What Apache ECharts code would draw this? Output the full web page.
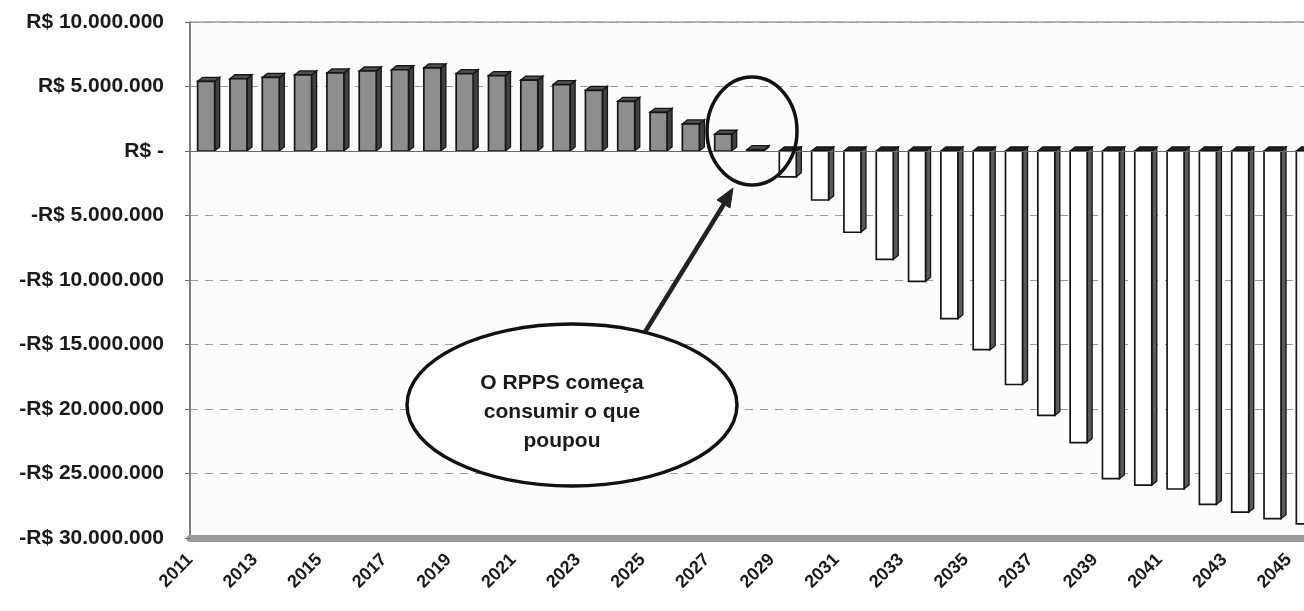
<!DOCTYPE html>
<html>
<head>
<meta charset="utf-8">
<script src="https://cdn.jsdelivr.net/npm/echarts@6/dist/echarts.min.js"></script>
<style>
  html, body { margin: 0; padding: 0; background: #ffffff; overflow: hidden; width: 1304px; height: 611px; }
  #chart { width: 1321px; height: 611px; }
</style>
</head>
<body>
<div id="chart"></div>
<script>
// ---- data ----
const years = ['2011','2012','2013','2014','2015','2016','2017','2018','2019','2020',
               '2021','2022','2023','2024','2025','2026','2027','2028','2029','2030',
               '2031','2032','2033','2034','2035','2036','2037','2038','2039','2040',
               '2041','2042','2043','2044','2045'];
const saldo = [5400000, 5600000, 5700000, 5900000, 6050000, 6200000, 6300000, 6450000, 6000000, 5850000,
               5500000, 5150000, 4700000, 3850000, 3000000, 2100000, 1300000, 100000, -2000000, -3800000,
               -6300000, -8400000, -10100000, -13000000, -15400000, -18100000, -20500000, -22600000, -25400000, -25900000,
               -26200000, -27400000, -28000000, -28500000, -28900000];
const yTickLabels = ['-R$ 30.000.000','-R$ 25.000.000','-R$ 20.000.000','-R$ 15.000.000','-R$ 10.000.000',
                     '-R$ 5.000.000','R$ -','R$ 5.000.000','R$ 10.000.000'];
const yMin = -30000000, yMax = 10000000, yStep = 5000000;
const noteText = 'O RPPS começa\nconsumir o que\npoupou';

const chart = echarts.init(document.getElementById('chart'), null, { renderer: 'canvas' });
const FONT = '"Liberation Sans", Arial, sans-serif';

function renderBar(params, api) {
  const idx = api.value(0);
  const v = api.value(1);
  const base = api.coord([idx, 0]);
  const top = api.coord([idx, v]);
  const bw = 17, dx = 5, dy = -4;
  const xL = base[0] - bw / 2, xR = xL + bw;
  const yTop = Math.min(base[1], top[1]);
  const yBot = Math.max(base[1], top[1]);
  const pos = v >= 0;
  const outline = '#151515';
  return {
    type: 'group',
    children: [
      { type: 'polygon', shape: { points: [[xR, yTop], [xR + dx, yTop + dy], [xR + dx, yBot + dy], [xR, yBot]] },
        style: { fill: pos ? '#404040' : '#5a5a5a', stroke: outline, lineWidth: 1.3 } },
      { type: 'polygon', shape: { points: [[xL, yTop], [xL + dx, yTop + dy], [xR + dx, yTop + dy], [xR, yTop]] },
        style: { fill: pos ? '#505050' : '#202020', stroke: outline, lineWidth: 1.3 } },
      { type: 'rect', shape: { x: xL, y: yTop, width: bw, height: Math.max(yBot - yTop, 0.5) },
        style: { fill: pos ? '#8e8e8e' : '#ffffff', stroke: outline, lineWidth: 1.7 } }
    ]
  };
}

const option = {
  backgroundColor: '#ffffff',
  animation: false,
  grid: [
    { left: 190, top: 22, right: 0, bottom: 73, show: true, backgroundColor: '#fcfcfc', borderColor: '#707070', borderWidth: 1 },
    { left: 174, top: 22, right: 16, bottom: 73, show: false }
  ],
  xAxis: [
    { type: 'category', gridIndex: 0, data: years, position: 'bottom',
      axisLine: { show: true, onZero: false, lineStyle: { color: '#9a9a9a', width: 7 } },
      axisTick: { show: false }, axisLabel: { show: false }, splitLine: { show: false } },
    { type: 'category', gridIndex: 1, data: years, position: 'bottom',
      axisLine: { show: false }, axisTick: { show: false },
      axisLabel: { interval: 1, rotate: 45, margin: 19, color: '#1a1a1a',
                   fontFamily: FONT, fontWeight: 'bold', fontSize: 18 } }
  ],
  yAxis: [
    { type: 'value', gridIndex: 0, min: yMin, max: yMax, interval: yStep,
      axisLine: { show: true, lineStyle: { color: '#6a6a6a', width: 1.5 } },
      axisTick: { show: true, length: 5, lineStyle: { color: '#6a6a6a' } },
      axisLabel: { margin: 26, color: '#1a1a1a', fontFamily: FONT, fontWeight: 'bold', fontSize: 21,
                   formatter: function (v) { return yTickLabels[Math.round((v - yMin) / yStep)]; } },
      splitLine: { show: true, lineStyle: { color: '#9a9a9a', type: [8, 7], width: 1 } } },
    { type: 'value', gridIndex: 1, min: yMin, max: yMax, show: false }
  ],
  series: [
    { type: 'custom', xAxisIndex: 0, yAxisIndex: 0,
      data: saldo.map(function (v, i) { return [i, v]; }),
      renderItem: renderBar,
      encode: { x: 0, y: 1 },
      markLine: { silent: true, symbol: 'none', label: { show: false },
                  lineStyle: { color: '#6a6a6a', type: 'solid', width: 1.2 },
                  data: [{ yAxis: 0 }] },
      z: 3 }
  ],
  graphic: [
    { type: 'ellipse', z: 10, shape: { cx: 752, cy: 131, rx: 45, ry: 54 },
      style: { fill: 'none', stroke: '#111', lineWidth: 3.5 } },
    { type: 'line', z: 10, shape: { x1: 645, y1: 332, x2: 724, y2: 204 },
      style: { stroke: '#222', lineWidth: 4.5 } },
    { type: 'polygon', z: 10, shape: { points: [[733, 188], [730, 208], [717, 200]] },
      style: { fill: '#222', stroke: '#222', lineWidth: 1 } },
    { type: 'ellipse', z: 10, shape: { cx: 572, cy: 405, rx: 165, ry: 81 },
      style: { fill: '#ffffff', stroke: '#111', lineWidth: 3.5 } },
    { type: 'text', z: 11, x: 562, y: 412,
      style: { text: noteText, fill: '#1a1a1a', font: 'bold 21px "Liberation Sans", Arial, sans-serif',
               align: 'center', verticalAlign: 'middle', lineHeight: 29 } }
  ]
};
chart.setOption(option);
</script>
</body>
</html>
